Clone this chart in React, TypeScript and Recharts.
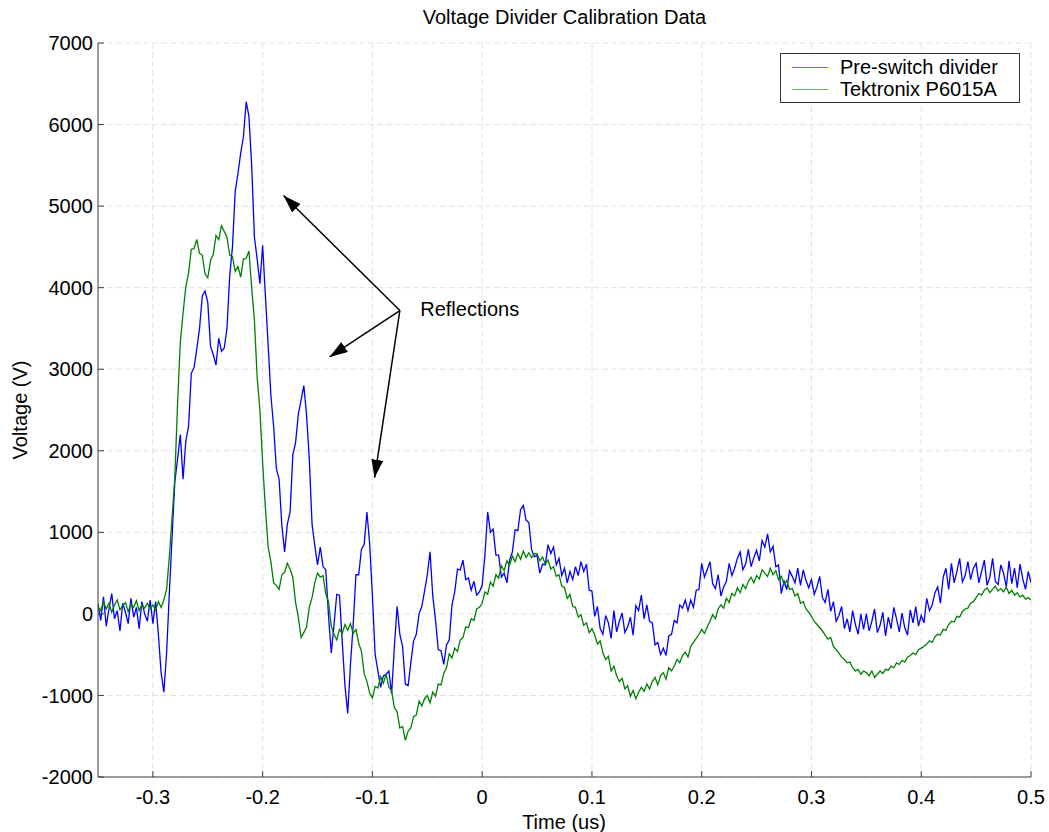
import { LineChart, Line, XAxis, YAxis, CartesianGrid, Legend, ReferenceLine, ReferenceDot } from 'recharts';

const FONT = '"Liberation Sans", Arial, Helvetica, sans-serif';

// sampling grid of the scope traces (us)
const T_START = -0.35;
const T_STEP = 0.0025;

// Pre-switch divider trace (V), one row per 0.05 us
const preSwitch = [
  120, -80, 210, -150, 60, 250, -60, 40, -210, 130, 20, -120, 190, -40, 80, -180, 150, 0, -90, 170,
  -120, 150, -250, -720, -960, -480, 260, 950, 1620, 1900, 2200, 1650, 2120, 2300, 2950, 3020, 3250, 3500, 3900, 3960,
  3820, 3280, 3180, 3050, 3380, 3220, 3260, 3500, 4150, 4500, 5180, 5400, 5650, 5850, 6280, 6100, 5500, 4620, 4350, 4050,
  4520, 3900, 3300, 2680, 2300, 1780, 1650, 1080, 760, 1100, 1250, 1950, 2100, 2450, 2620, 2800, 2440, 1900, 1100, 840,
  600, 820, 580, 540, -20, -480, -140, 240, 230, -340, -880, -1220, -620, -130, 480, 480, 790, 850, 1250, 860,
  220, -500, -700, -900, -760, -740, -700, -980, -400, 90, -250, -400, -860, -880, -600, -330, -250, 0, 90, 280,
  480, 760, 220, -80, -440, -450, -620, -380, -320, 110, 270, 550, 540, 660, 420, 440, 290, 400, 230, 270,
  350, 720, 1250, 1000, 1040, 720, 720, 450, 500, 380, 660, 760, 1030, 1020, 1280, 1330, 1150, 1120, 790, 700,
  720, 500, 610, 600, 850, 740, 820, 600, 680, 470, 560, 380, 520, 420, 580, 470, 640, 520, 610, 290,
  280, -30, 90, -180, -250, -20, -110, -300, 40, -220, -90, 10, -230, -160, -40, -260, 100, 40, 230, -60,
  110, -90, -110, -380, -350, -500, -420, -510, -270, -250, -80, -110, 110, 70, 170, 40, 170, 80, 290, 300,
  620, 450, 540, 640, 370, 310, 480, 220, 330, 400, 620, 470, 560, 680, 760, 540, 610, 790, 580, 690,
  780, 650, 900, 820, 980, 760, 830, 580, 600, 250, 400, 300, 530, 460, 380, 560, 350, 540, 410, 320,
  420, 240, 330, 460, 200, 140, 300, 30, 150, -90, -20, 90, -180, -60, -220, 40, -130, -250, 0, -190,
  0, -210, -90, 60, -230, -140, 20, -270, -40, -180, 80, -60, -220, 10, -170, -260, 50, -110, 90, -150,
  -20, -110, 190, 40, 110, 260, 330, 130, 450, 560, 300, 620, 380, 520, 680, 390, 470, 640, 420, 560,
  620, 380, 520, 660, 350, 450, 680, 400, 360, 600, 500, 330, 650, 370, 560, 320, 610, 430, 300, 520,
  380,
];

// Tektronix P6015A reference probe (V)
const tektronix = [
  90, 40, 150, 60, 130, 20, 110, 170, 50, 100, 140, 30, 120, 80, 160, 40, 110, 70, 130, 60,
  110, 50, 150, 80, 170, 300, 700, 1180, 1680, 2580, 3330, 3690, 4010, 4180, 4470, 4480, 4590, 4420, 4400, 4170,
  4120, 4330, 4410, 4640, 4590, 4760, 4690, 4620, 4400, 4380, 4200, 4260, 4130, 4350, 4360, 4450, 4000, 3600, 2900, 2500,
  1850, 1300, 820, 640, 380, 350, 300, 480, 510, 620, 550, 450, 140, -40, -290, -230, -160, 80, 200, 380,
  500, 450, 470, 250, 150, -150, -250, -320, -190, -240, -130, -200, -120, -240, -190, -360, -460, -730, -830, -970,
  -1030, -890, -910, -770, -850, -740, -900, -940, -1150, -1200, -1400, -1380, -1550, -1440, -1400, -1260, -1240, -1070, -1130, -1040,
  -1000, -1090, -960, -1010, -860, -870, -730, -660, -490, -540, -420, -460, -320, -290, -160, -170, -60, -80, 60, 80,
  130, 270, 240, 390, 340, 480, 440, 590, 530, 650, 600, 710, 640, 740, 670, 770, 690, 750, 690, 740,
  740, 650, 700, 610, 660, 550, 580, 460, 480, 340, 320, 190, 240, 90, 80, -40, -10, -140, -110, -230,
  -180, -260, -370, -330, -480, -560, -520, -700, -640, -760, -830, -790, -920, -880, -1010, -940, -1040, -960, -900, -950,
  -860, -920, -830, -780, -870, -760, -720, -800, -660, -700, -640, -560, -600, -510, -470, -530, -400, -350, -300, -250,
  -190, -240, -160, -90, -10, -60, 60, 110, 70, 190, 140, 250, 220, 320, 260, 360, 310, 400, 450, 380,
  470, 430, 540, 500, 460, 560, 480, 530, 420, 460, 360, 410, 300, 310, 220, 250, 130, 150, 60, 20,
  -30, -90, -130, -170, -210, -260, -310, -290, -400, -440, -480, -530, -560, -600, -590, -660, -700, -680, -740, -700,
  -720, -760, -700, -780, -740, -700, -730, -680, -690, -640, -660, -600, -620, -570, -590, -530, -510, -480, -500, -440,
  -420, -400, -370, -330, -350, -280, -250, -260, -190, -200, -130, -90, -100, -30, -40, 30, 60, 70, 130, 150,
  200, 250, 230, 290, 320, 260, 300, 340, 280, 310, 270, 330, 250, 290, 230, 260, 210, 230, 180, 200,
  170,
];

const timeTicks = [-0.3, -0.2, -0.1, 0, 0.1, 0.2, 0.3, 0.4, 0.5];
const voltTicks = [-2000, -1000, 0, 1000, 2000, 3000, 4000, 5000, 6000, 7000];

// annotation: arrows fan out from the label to the three reflections
const arrowFrom = { x: -0.075, y: 3720 };
const arrowTips = [
  { x: -0.181, y: 5130 },
  { x: -0.139, y: 3150 },
  { x: -0.098, y: 1670 },
];
const labelAnchor = { x: -0.061, y: 3740 };

const data = preSwitch.map((v, i) => ({
  t: +(T_START + i * T_STEP).toFixed(4),
  pre: v,
  tek: tektronix[i],
}));

const LegendBox = ({ payload }: any) => (
  <div
    style={{
      boxSizing: 'border-box',
      width: 240,
      border: '1px solid #333',
      background: '#fff',
      padding: '2px 8px 2px 11px',
      fontFamily: FONT,
      fontSize: 20,
      lineHeight: '22px',
      color: '#000',
    }}
  >
    {(payload || []).map((p: any) => (
      <div key={p.value} style={{ display: 'flex', alignItems: 'center' }}>
        <span
          style={{
            display: 'inline-block',
            width: 36,
            height: 0,
            borderTop: `1px solid ${p.color}`,
            opacity: 0.6,
            marginRight: 12,
          }}
        />
        {p.value}
      </div>
    ))}
  </div>
);

const arrowShape = (p: any) => (
  <line x1={p.x1} y1={p.y1} x2={p.x2} y2={p.y2} stroke="#000" strokeWidth={1.5} markerEnd="url(#arrowHead)" />
);

export default function App() {
  return (
    <div style={{ position: 'relative', width: 1049, height: 832, background: '#fff' }}>
      <style>{'body{margin:0}'}</style>
      <div
        style={{
          position: 'absolute',
          top: 6,
          left: 98,
          width: 933,
          textAlign: 'center',
          fontFamily: FONT,
          fontSize: 20,
          color: '#000',
        }}
      >
        Voltage Divider Calibration Data
      </div>
      <LineChart width={1049} height={832} data={data} margin={{ top: 43, right: 18, bottom: 15, left: 8 }}>
        <defs>
          <marker
            id="arrowHead"
            markerUnits="userSpaceOnUse"
            markerWidth={20}
            markerHeight={14}
            refX={18}
            refY={6}
            orient="auto"
          >
            <path d="M0,0 L18,6 L0,12 z" fill="#000" />
          </marker>
        </defs>
        <CartesianGrid stroke="#e2e2e2" strokeDasharray="6 3" />
        <XAxis
          dataKey="t"
          type="number"
          domain={[-0.35, 0.5]}
          ticks={timeTicks}
          interval={0}
          allowDataOverflow
          tickSize={-6}
          tickMargin={19}
          height={40}
          stroke="#404040"
          tick={{ fill: '#000', fontSize: 20, fontFamily: FONT }}
          tickFormatter={(v: number) => String(v)}
          label={{
            content: () => (
              <text x={564} y={829} textAnchor="middle" fontSize={20} fontFamily={FONT} fill="#000">
                Time (us)
              </text>
            ),
          }}
        />
        <XAxis
          xAxisId="top"
          orientation="top"
          dataKey="t"
          type="number"
          domain={[-0.35, 0.5]}
          ticks={timeTicks}
          interval={0}
          allowDataOverflow
          tick={false}
          tickSize={-6}
          height={0}
          stroke="#404040"
        />
        <YAxis
          type="number"
          domain={[-2000, 7000]}
          ticks={voltTicks}
          interval={0}
          allowDataOverflow
          tickSize={-6}
          tickMargin={11}
          width={90}
          stroke="#404040"
          tick={{ fill: '#000', fontSize: 20, fontFamily: FONT }}
          label={{
            content: () => (
              <text
                x={27}
                y={410}
                transform="rotate(-90 27 410)"
                textAnchor="middle"
                fontSize={20}
                fontFamily={FONT}
                fill="#000"
              >
                Voltage (V)
              </text>
            ),
          }}
        />
        <YAxis
          yAxisId="right"
          orientation="right"
          type="number"
          domain={[-2000, 7000]}
          ticks={voltTicks}
          interval={0}
          allowDataOverflow
          tick={false}
          tickSize={-6}
          width={0}
          stroke="#404040"
        />
        <Legend
          content={<LegendBox />}
          layout="vertical"
          align="center"
          verticalAlign="middle"
          wrapperStyle={{ position: 'absolute', top: 53, left: 780, width: 240 }}
        />
        <Line
          name="Pre-switch divider"
          dataKey="pre"
          type="linear"
          stroke="#0000ff"
          strokeWidth={1.3}
          dot={false}
          activeDot={false}
          isAnimationActive={false}
        />
        <Line
          name="Tektronix P6015A"
          dataKey="tek"
          type="linear"
          stroke="#008000"
          strokeWidth={1.3}
          dot={false}
          activeDot={false}
          isAnimationActive={false}
        />
        {arrowTips.map((tip, i) => (
          <ReferenceLine key={i} segment={[arrowFrom, tip]} shape={arrowShape} />
        ))}
        <ReferenceDot
          x={labelAnchor.x}
          y={labelAnchor.y}
          r={0}
          fill="none"
          stroke="none"
          label={{ value: 'Reflections', position: 'right', offset: 5, fontSize: 20, fontFamily: FONT, fill: '#000' }}
        />
      </LineChart>
    </div>
  );
}
